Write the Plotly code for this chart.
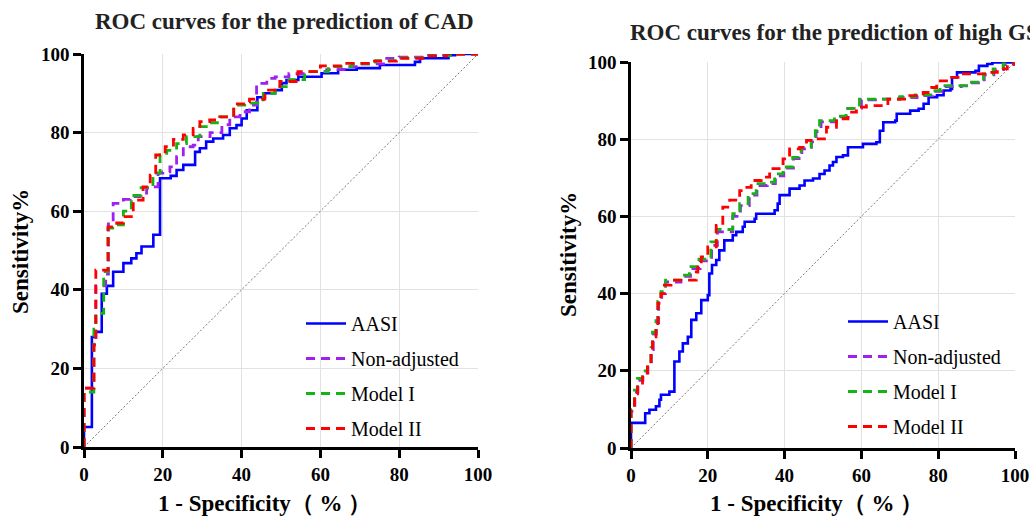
import plotly.graph_objects as go

# ---------------- data: CAD (left) ----------------
aasi_cad_x = [0, 0, 2, 3, 4.5, 5.8, 7.4, 10, 12, 13.3, 14.6, 17.6, 19.3, 22, 23.5, 25.2, 28.2, 29.4, 31, 32.8,
              35.3, 37, 38.7, 40, 41.3, 44, 45.9, 48.5, 50.2, 51.4, 54.4, 60.3, 64.5, 69.2, 75.1, 84, 85.3, 92.5, 94.2, 100]
aasi_cad_y = [0, 5.1, 28, 29.3, 39, 41, 44.6, 46.8, 48, 49.3, 51, 54, 68.4, 69, 70.5, 71.8, 75.1, 76, 77.7, 78.5,
              79.4, 81.1, 81.9, 83.6, 85.7, 89, 90, 90.8, 92.6, 93.4, 94.2, 95.1, 96, 96.4, 97.2, 98, 98.9, 99.7, 100, 100]

nonadj_cad_x = [0, 0, 1.5, 2.5, 3, 5.5, 6.2, 7.4, 10, 11.7, 14.2, 15.9, 17.2, 18.8, 20, 21.8, 23.5, 25.2, 27.7, 29,
                32, 35, 37, 39.6, 42, 43.8, 46.4, 48.5, 52, 56, 61.6, 66, 70, 76, 80, 86, 92, 100]
nonadj_cad_y = [0, 15, 15, 26, 41, 44, 57.8, 62, 63, 63.7, 64.6, 65.9, 66.2, 69.7, 70, 71.3, 73.9, 76.4, 76.8, 79,
                80, 82, 84, 85.3, 87, 92.5, 93.8, 94.2, 95, 95.5, 96, 96.8, 97.5, 98.9, 99.2, 99.7, 100, 100]

model1_cad_x = [0, 0, 1.5, 2.5, 3, 5, 6.1, 8, 10, 12, 14.5, 17.5, 19.3, 21, 23.5, 26, 29.4, 32, 34.5, 38, 40,
                42, 45.5, 48.5, 52, 56, 62, 68, 74, 80, 87, 93, 100]
model1_cad_y = [0, 14, 14, 30, 34, 44.6, 55.7, 56.5, 60, 64, 66, 69.7, 74.3, 75.5, 77.2, 79, 81.5, 82.5, 84, 87, 87,
                87.5, 90, 91.7, 93.5, 95.5, 96.8, 97.5, 98.3, 99, 99.6, 100, 100]

model2_cad_x = [0, 0, 1.5, 2.5, 3, 6.1, 8.3, 10, 12.5, 15, 16.8, 18.2, 20.6, 22.7, 25.2, 27.7, 29.4, 31.9, 34.5, 38,
                41.3, 42, 45.9, 49.7, 54.3, 60, 66.7, 72.6, 79.3, 86, 92, 100]
model2_cad_y = [0, 15, 15, 26, 45, 56, 57, 58.6, 62.8, 66.2, 69.2, 74.3, 76.4, 78.3, 79.4, 81.1, 82.8, 83.2, 84, 87.3,
                87.8, 88.5, 90.8, 93, 95.5, 97, 97.6, 98.2, 98.9, 99.5, 100, 100]

# ---------------- data: high GS (right) ----------------
aasi_gs_x = [0, 0, 3.7, 4.8, 6.5, 7.4, 7.8, 10, 11.3, 12.6, 13.5, 14.8, 15.7, 17, 18.3, 20, 20.4, 21.1, 22.2, 23,
             24.3, 26.5, 27.4, 29.1, 29.6, 32.2, 32.6, 37.4, 38.2, 38.7, 41.3, 43.9, 45.2, 47.4, 49.1, 50.4, 51.7, 52.6,
             53.5, 55.2, 56.5, 60.4, 63.9, 64.8, 65.7, 68.8, 69.2, 72.7, 74.9, 76.2, 77.5, 79.7, 81.4, 83.2, 83.6, 84.9,
             89.7, 90.6, 92.8, 94.1, 100]
aasi_gs_y = [0, 6.5, 9, 9.9, 10.8, 12.5, 13.8, 14.6, 22.4, 25, 27.1, 28.8, 33.2, 34.9, 38.3, 39.6, 45.2, 47.4, 48.7, 51.2,
             53.8, 55.1, 56, 57.3, 58.6, 59.4, 60.7, 61.6, 63.3, 65.5, 67.2, 68, 69.3, 69.8, 71, 71.9, 73.2, 74.1,
             75.4, 75.8, 77.9, 78.8, 79.2, 82.2, 84.4, 84.8, 86.6, 87.4, 87.9, 89.2, 90.9, 91.4, 92.6, 93, 96, 97.3,
             97.7, 99, 99.5, 99.9, 100]

nonadj_gs_x = [0, 0, 1, 1.8, 3.1, 4.4, 5.3, 5.8, 6.6, 7.2, 8, 9, 13, 15.5, 18, 21, 22.5, 26.5, 28.5, 30.8, 32.8, 35.5,
               37.6, 39.8, 42.3, 44.5, 47, 48.2, 49.5, 53.5, 56.5, 60, 64.5, 70, 74.5, 78.5, 81, 86, 88, 92, 94.5, 97, 100]
nonadj_gs_y = [0, 9.5, 14.5, 17.5, 19.5, 21.5, 25.5, 29.5, 32.5, 37.5, 40, 43, 44.5, 46.5, 48.5, 52.5, 56, 60, 62.8,
               65.5, 68, 68.5, 70.5, 72.5, 75, 77.5, 79.3, 82, 84.5, 85.8, 88, 90.2, 90.4, 90.8, 91.3, 92.4, 93.6, 93.8,
               94.6, 96.7, 98, 99.3, 100]

model1_gs_x = [0, 0, 0.9, 1.7, 3, 4.3, 5.2, 5.6, 6.5, 7, 7.8, 9, 13, 15.2, 17.7, 20.8, 22.2, 26.5, 28.3, 30.5, 32.6,
               35.3, 37.4, 39.6, 42.1, 44.3, 46.9, 48, 49.1, 53, 56, 59.5, 64, 70, 74, 78, 80.5, 85.7, 87.4, 91.8,
               94.3, 96.9, 100]
model1_gs_y = [0, 10, 15, 18, 20, 22, 26, 30, 33, 38, 40.5, 43.5, 44.8, 47, 48.9, 53.4, 56.6, 60.7, 63.3, 65.9, 68.5,
               68.9, 71, 72.8, 75.3, 77.9, 79.7, 82.2, 84.8, 86, 88, 90.4, 90.4, 91, 91.5, 92.6, 93.9, 93.9, 94.8, 96.9,
               98.2, 99.5, 100]

model2_gs_x = [0, 0, 0.9, 1.7, 3, 4.3, 5.2, 5.6, 6.5, 7, 7.8, 8.7, 10.4, 15.2, 17, 17.4, 18.3, 20, 22.2, 23.9, 25.7,
               28.3, 29.1, 31.3, 33.9, 36.1, 39.6, 41.3, 43.9, 45.7, 48.3, 50.9, 53.5, 56.5, 58.7, 61.3, 66.9, 72.6,
               76.1, 78.3, 79.6, 83.5, 85.7, 89.7, 92.8, 95.4, 98, 100]
model2_gs_y = [0, 9.9, 14, 16.8, 19, 21.5, 25.4, 28.8, 31.4, 37.5, 40, 42.2, 43.5, 43.5, 45.6, 47.8, 49.5, 52.1, 57.7,
               62.4, 64.2, 66.7, 67.5, 69.3, 70.2, 72.4, 74.9, 77.5, 77.9, 79.7, 80.1, 83.1, 85.3, 87, 88.3, 88.7, 90.4,
               91.3, 92.1, 93.4, 95.1, 96, 96.9, 96.9, 97.3, 98.2, 99.5, 100]

ref_x = [0, 100]
ref_y = [0, 100]

tick_vals = [0, 20, 40, 60, 80, 100]
series_names = ["AASI", "Non-adjusted", "Model I", "Model II"]
titles = ["ROC curves for the prediction of CAD", "ROC curves for the prediction of high GS"]
x_title = "1 - Specificity（ % ）"
y_title = "Sensitivity%"

# ---------------- styling ----------------
W, H = 1030, 517
SERIF = "Liberation Serif, Times New Roman, serif"
colors = ["#0000ff", "#a020f0", "#14b414", "#ff0000"]
dashes = ["solid", "9px,6px", "9px,6px", "9px,6px"]

fig = go.Figure()

panels = [
    dict(xa="x", ya="y", leg="legend",
         data=[(aasi_cad_x, aasi_cad_y), (nonadj_cad_x, nonadj_cad_y),
               (model1_cad_x, model1_cad_y), (model2_cad_x, model2_cad_y)]),
    dict(xa="x2", ya="y2", leg="legend2",
         data=[(aasi_gs_x, aasi_gs_y), (nonadj_gs_x, nonadj_gs_y),
               (model1_gs_x, model1_gs_y), (model2_gs_x, model2_gs_y)]),
]

for p in panels:
    fig.add_trace(go.Scatter(x=ref_x, y=ref_y, mode="lines", xaxis=p["xa"], yaxis=p["ya"],
                             line=dict(color="#777777", width=1, dash="2px,2px"),
                             showlegend=False, hoverinfo="skip"))
    for i, (xs, ys) in enumerate(p["data"]):
        fig.add_trace(go.Scatter(x=xs, y=ys, mode="lines", name=series_names[i],
                                 xaxis=p["xa"], yaxis=p["ya"], legend=p["leg"],
                                 legendgroup=p["leg"] + str(i),
                                 line=dict(color=colors[i], width=2.6 if i == 0 else 2.8,
                                           dash=dashes[i], shape="hv")))

def px_x(v):
    return v / W

def px_y(v):
    return 1 - v / H

axis_common = dict(range=[0, 100], tickvals=tick_vals, showline=True, linecolor="black", linewidth=2.5,
                   ticks="outside", ticklen=8, tickwidth=2.5, tickcolor="black", automargin=False,
                   showgrid=True, gridcolor="#e2e2e2", gridwidth=1, zeroline=False,
                   tickfont=dict(family=SERIF, size=19, color="black", weight="bold"),
                   fixedrange=True)

legend_common = dict(xanchor="left", yanchor="top",
                     font=dict(family=SERIF, size=20, color="black"),
                     bgcolor="rgba(0,0,0,0)", tracegroupgap=6, itemwidth=40)

fig.update_layout(
    width=W, height=H, margin=dict(l=0, r=0, t=0, b=0, autoexpand=False),
    paper_bgcolor="white", plot_bgcolor="white",
    xaxis=dict(domain=[px_x(84), px_x(478)], anchor="y", **axis_common),
    yaxis=dict(domain=[px_y(447), px_y(54)], anchor="x", **axis_common),
    xaxis2=dict(domain=[px_x(631), px_x(1015)], anchor="y2", **axis_common),
    yaxis2=dict(domain=[px_y(448), px_y(62)], anchor="x2", **axis_common),
    legend=dict(x=px_x(301), y=px_y(304), **legend_common),
    legend2=dict(x=px_x(843), y=px_y(302), **legend_common),
    showlegend=True,
)

title_font = dict(family=SERIF, size=23, color="#222222", weight="bold")
label_font = dict(family=SERIF, size=23, color="black", weight="bold")

annotations = [
    dict(text=titles[0], x=px_x(284), y=px_y(22), xanchor="center", yanchor="middle", font=title_font),
    dict(text=titles[1], x=px_x(628), y=px_y(33), xanchor="left", yanchor="middle", font=title_font),
    dict(text=x_title, x=px_x(264), y=px_y(503), xanchor="center", yanchor="middle", font=label_font),
    dict(text=x_title, x=px_x(816), y=px_y(503), xanchor="center", yanchor="middle", font=label_font),
    dict(text=y_title, x=px_x(20), y=px_y(252), xanchor="center", yanchor="middle", textangle=-90, font=label_font),
    dict(text=y_title, x=px_x(568), y=px_y(255), xanchor="center", yanchor="middle", textangle=-90, font=label_font),
]
for a in annotations:
    a.update(xref="paper", yref="paper", showarrow=False)
fig.update_layout(annotations=annotations)

fig.write_html("out.html", config={"displayModeBar": False},
               post_script="document.body.style.margin='0';document.body.style.overflow='hidden';")
